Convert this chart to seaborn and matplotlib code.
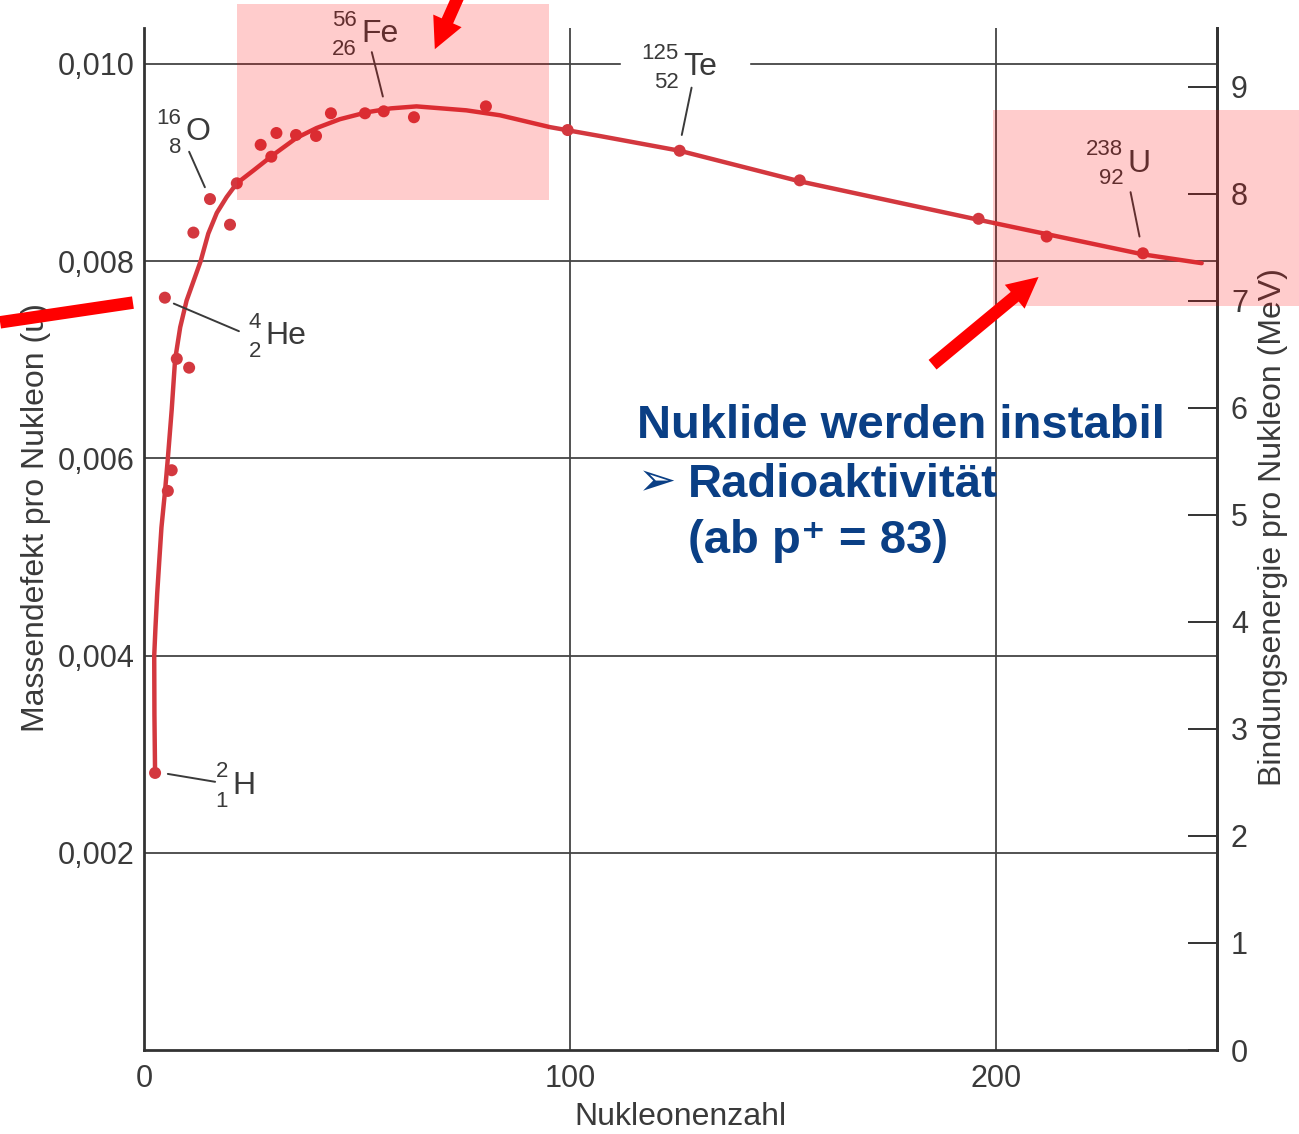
import seaborn as sns
import matplotlib.pyplot as plt
from matplotlib.patches import Rectangle

# Messpunkte: Nukleonenzahl / Massendefekt pro Nukleon (u)
nukleonen = [2.6, 4.9, 5.6, 6.5, 7.7, 10.6, 11.6, 15.5, 20.2, 21.8, 27.4, 29.9, 31.1,
             35.7, 40.4, 43.9, 51.9, 56.3, 63.4, 80.3, 99.5, 125.8, 154.0, 196.0, 212.0, 234.6]
massendefekt = [0.00281, 0.00763, 0.00567, 0.00588, 0.00701, 0.00692, 0.00829, 0.00863,
                0.00837, 0.00879, 0.00918, 0.00906, 0.00930, 0.00928, 0.00927, 0.00950,
                0.00950, 0.00952, 0.00946, 0.00957, 0.00933, 0.00912, 0.00882, 0.00843,
                0.00825, 0.00808]

# von Hand gezogene Ausgleichskurve
kurve_x = [2.6, 2.45, 2.4, 2.7, 3.1, 3.6, 4.1, 4.9, 5.6, 6.5, 7.3, 8.5, 10.0, 13.3,
           15.1, 17.1, 19.4, 21.8, 25.7, 30.4, 35.8, 40.5, 46.0, 52.3, 58.0, 64.0,
           75.7, 83.6, 95.3, 107.0, 125.8, 154.0, 196.0, 234.5, 248.4]
kurve_y = [0.00281, 0.00340, 0.00400, 0.00429, 0.00463, 0.00497, 0.00530, 0.00565,
           0.00600, 0.00649, 0.00700, 0.00733, 0.00760, 0.00800, 0.00828, 0.00849,
           0.00865, 0.00879, 0.00892, 0.00908, 0.00925, 0.00935, 0.00944, 0.00951,
           0.00955, 0.00957, 0.00953, 0.00948, 0.00936, 0.00927, 0.00912, 0.00881,
           0.00842, 0.00807, 0.00798]

x_ticks = [0, 100, 200]
y_ticks = [0.002, 0.004, 0.006, 0.008, 0.010]
y_tick_labels = ["0,002", "0,004", "0,006", "0,008", "0,010"]
mev_ticks = [0, 1, 2, 3, 4, 5, 6, 7, 8, 9]

# Nuklid-Beschriftungen
iso_a = ["2", "4", "16", "56", "125", "238"]
iso_z = ["1", "2", "8", "26", "52", "92"]
iso_sym = ["H", "He", "O", "Fe", "Te", "U"]
iso_pos = [(19.7, 0.00268), (27.5, 0.00724), (8.7, 0.00931),
           (50.0, 0.01030), (125.6, 0.00997), (230.0, 0.00899)]
iso_leader = [((5.6, 0.00280), (16.7, 0.00272)), ((7.0, 0.00757), (22.3, 0.00729)),
              ((10.6, 0.00911), (14.3, 0.00875)), ((53.5, 0.01012), (56.1, 0.00967)),
              ((128.6, 0.00976), (126.3, 0.00928)), ((231.7, 0.00870), (233.8, 0.00825))]

sns.set_theme(style="white")
plt.rcParams["font.family"] = ["Liberation Sans", "DejaVu Sans"]

ink = "#3a3a3a"
rot = "#d3383f"
blau = "#0a3f85"

fig = plt.figure(figsize=(12.99, 11.34), dpi=100)
ax = fig.add_axes([144 / 1299, 84 / 1134, 1073 / 1299, 1022 / 1134])

ax.set_xlim(0, 252)
ax.set_ylim(0, 0.010365)

# Gitter
ax.set_xticks(x_ticks)
ax.set_yticks(y_ticks)
ax.set_yticklabels(y_tick_labels)
ax.grid(True, color="#444444", lw=1.3)
ax.set_axisbelow(True)
ax.tick_params(axis="both", length=0, labelsize=22, labelcolor=ink)
ax.tick_params(axis="x", pad=10)
ax.tick_params(axis="y", pad=7)

for s in ["left", "bottom", "right"]:
    ax.spines[s].set_color("#333333")
    ax.spines[s].set_linewidth(2)
ax.spines["top"].set_visible(False)

# Kurve und Punkte
sns.lineplot(x=kurve_x, y=kurve_y, ax=ax, sort=False, estimator=None,
             color=rot, lw=3.2, zorder=3, solid_joinstyle="round")
sns.scatterplot(x=nukleonen, y=massendefekt, ax=ax, color=rot, s=75,
                edgecolor="none", zorder=4)

# weisser Hintergrund hinter Te
ax.add_patch(Rectangle((112, 0.0099), 30, 0.0003, color="white", zorder=2))

for a, z, sym, (px, py), (p0, p1) in zip(iso_a, iso_z, iso_sym, iso_pos, iso_leader):
    ax.annotate(sym, (px, py), xytext=(3, 0), textcoords="offset points",
                ha="left", va="center", fontsize=23, color=ink, zorder=5)
    ax.annotate(a, (px, py), xytext=(0, 10), textcoords="offset points",
                ha="right", va="center", fontsize=16, color=ink, zorder=5)
    ax.annotate(z, (px, py), xytext=(0, -11), textcoords="offset points",
                ha="right", va="center", fontsize=16, color=ink, zorder=5)
    ax.plot([p0[0], p1[0]], [p0[1], p1[1]], color=ink, lw=1.4, zorder=5)

ax.set_xlabel("Nukleonenzahl", fontsize=23, color=ink)
ax.xaxis.set_label_coords(0.4995, -0.0656)
ax.xaxis.label.set_va("center")
ax.set_ylabel("Massendefekt pro Nukleon (u)", fontsize=23, color=ink)
ax.yaxis.set_label_coords(-0.1007, 0.521)
ax.yaxis.label.set_va("center")

# rechte Achse: Bindungsenergie
ax2 = ax.twinx()
ax2.set_ylim(0, 9.55)
ax2.set_yticks(mev_ticks)
ax2.grid(False)
ax2.tick_params(axis="y", direction="in", length=21, width=1.4, color="#333333",
                labelsize=22, labelcolor=ink, pad=10)
for s in ["left", "bottom", "top"]:
    ax2.spines[s].set_visible(False)
ax2.spines["right"].set_color("#333333")
ax2.spines["right"].set_linewidth(2)
ax2.set_ylabel("Bindungsenergie pro Nukleon (MeV)", fontsize=23, color=ink)
ax2.yaxis.set_label_coords(1.0522, 0.512)
ax2.yaxis.label.set_va("center")

# Markierungen
ax2.add_patch(Rectangle((21.8, 0.00862), 73.3, 0.00199, facecolor="#ff0000",
                        alpha=0.2, edgecolor="none", clip_on=False, zorder=6,
                        transform=ax.transData))
ax2.add_patch(Rectangle((199.3, 0.00755), 72, 0.00198, facecolor="#ff0000",
                        alpha=0.2, edgecolor="none", clip_on=False, zorder=6,
                        transform=ax.transData))

pfeil = dict(arrowstyle="simple,head_length=0.62,head_width=0.62,tail_width=0.25",
             fc="#ff0000", ec="none", shrinkA=0, shrinkB=0, mutation_scale=36,
             clip_on=False)
ax2.annotate("", xy=(68.3, 0.01015), xytext=(75.0, 0.0108), xycoords=ax.transData,
             arrowprops=pfeil, annotation_clip=False, zorder=7)
ax2.annotate("", xy=(210.1, 0.00784), xytext=(185.2, 0.00695), xycoords=ax.transData,
             arrowprops=pfeil, annotation_clip=False, zorder=7)
ax2.plot([-33.8, -2.6], [0.00738, 0.00758], color="#ff0000", lw=9,
         solid_capstyle="butt", clip_on=False, zorder=7, transform=ax.transData)

kw = dict(fontsize=34, fontweight="bold", color=blau,
          family=["Liberation Sans", "DejaVu Sans"], va="baseline", zorder=7,
          transform=ax.transData)
ax2.text(115.7, 0.00621, "Nuklide werden instabil", **kw)
ax2.text(115.9, 0.00563, "➢", fontsize=33, fontweight="bold", color=blau,
         family=["DejaVu Sans"], va="baseline", zorder=7, transform=ax.transData)
ax2.text(127.8, 0.00561, "Radioaktivität", **kw)
ax2.text(127.8, 0.00504, "(ab p⁺ = 83)", **kw)

fig.savefig("out.png", dpi=100)
